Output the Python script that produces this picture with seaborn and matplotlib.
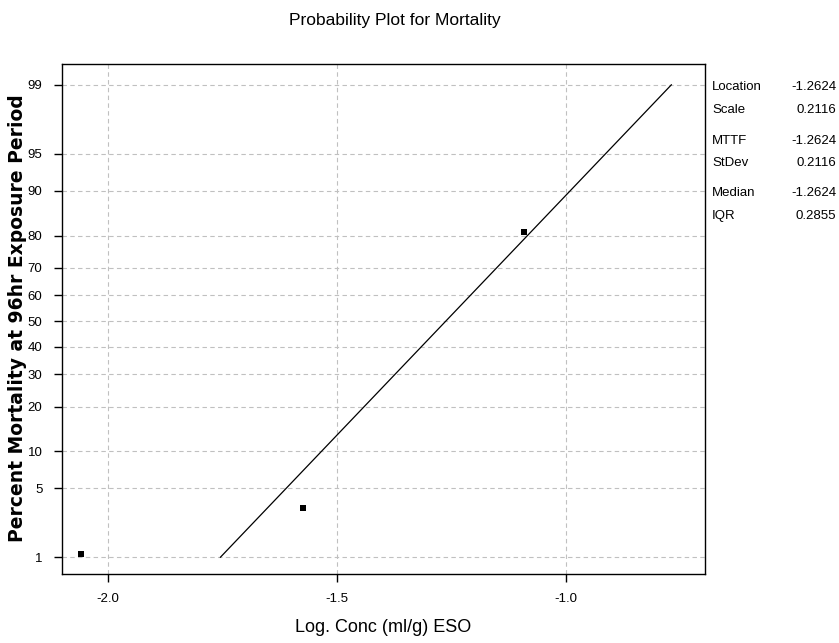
import numpy as np
import pandas as pd
from statistics import NormalDist
from matplotlib import pyplot as plt
import seaborn as sns

# data
log_conc = [-2.059, -1.574, -1.092]
mortality_pct = [1.1, 3.3, 81.0]
loc, scale = -1.2624, 0.2116
y_ticks = [1, 5, 10, 20, 30, 40, 50, 60, 70, 80, 90, 95, 99]
x_ticks = [-2.0, -1.5, -1.0]
stat_names = ['Location', 'Scale', 'MTTF', 'StDev', 'Median', 'IQR']
stat_values = ['-1.2624', '0.2116', '-1.2624', '0.2116', '-1.2624', '0.2855']

nd = NormalDist()
def probit(p):
	return [nd.inv_cdf(v / 100.0) for v in p]

pts = pd.DataFrame({'x': log_conc, 'z': probit(mortality_pct)})
fit_p = [1, 99]
fit = pd.DataFrame({'z': probit(fit_p)})
fit['x'] = loc + scale * fit['z']

sns.set_style("white")
plt.rcParams['font.family'] = ['Liberation Sans', 'DejaVu Sans']
plt.rcParams['text.color'] = 'black'
plt.rcParams['xtick.color'] = 'black'
plt.rcParams['ytick.color'] = 'black'
plt.rcParams['axes.labelcolor'] = 'black'

fig = plt.figure(figsize=(8.39, 6.43), dpi=100)
ax = fig.add_axes([62/839, 1 - 574/643, (705-62)/839, (574-64)/643])

sns.lineplot(data=fit, x='x', y='z', color='black', linewidth=0.9, ax=ax, sort=False)
sns.scatterplot(data=pts, x='x', y='z', color='black', marker='s', s=14, linewidth=0, ax=ax)

ax.set_xlim(-2.1, -0.697)
ax.set_ylim(-2.49, 2.53)
ax.set_yticks(probit(y_ticks))
ax.set_yticklabels([str(t) for t in y_ticks], fontsize=9.5)
ax.set_xticks(x_ticks)
ax.set_xticklabels([f'{t:.1f}' for t in x_ticks], fontsize=9.5)
ax.grid(True, color='#c0c0c0', linestyle=(0, (4, 3)), linewidth=0.8)
ax.tick_params(axis='both', length=6, width=1, color='black', direction='out',
	bottom=True, left=True, pad=8)
for s in ax.spines.values():
	s.set_color('black')
	s.set_linewidth(1)

ax.set_xlabel('Log. Conc (ml/g) ESO', fontsize=13, labelpad=10)
ax.set_ylabel('')
fig.text(18/839, 1 - 318/643, 'Percent Mortality at 96hr Exposure Period', rotation=90,
	ha='center', va='center', fontsize=13.5, fontweight='bold', family=['DejaVu Sans'])
fig.text(395/839, 1 - 20/643, 'Probability Plot for Mortality', ha='center', va='center', fontsize=12.5)

rows = [87, 110, 141, 163, 193, 216]
for name, val, r in zip(stat_names, stat_values, rows):
	fig.text(712/839, 1 - r/643, name, ha='left', va='center', fontsize=9.5)
	fig.text(836/839, 1 - r/643, val, ha='right', va='center', fontsize=9.5)

plt.savefig('out.png', dpi=100)
